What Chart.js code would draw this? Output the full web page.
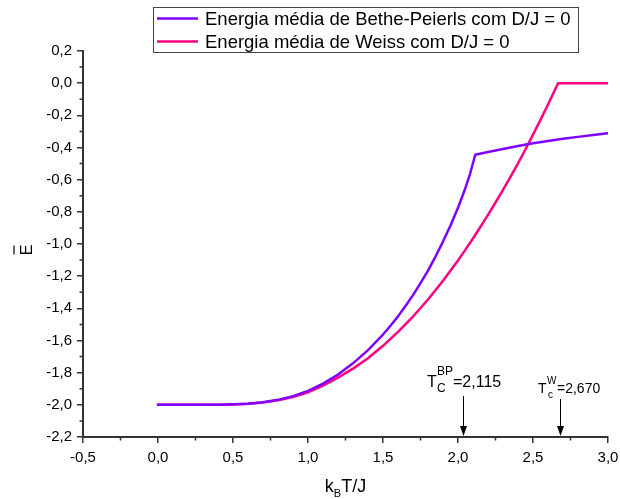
<!DOCTYPE html>
<html>
<head>
<meta charset="utf-8">
<script src="https://cdn.jsdelivr.net/npm/chart.js@4"></script>
<style>
  html, body { margin: 0; padding: 0; background: #fff; }
  #wrap { width: 620px; height: 499px; position: relative; }
</style>
</head>
<body>
<div id="wrap"><canvas id="chart"></canvas></div>
<script>
// kB T / J values and mean energies
const tBethe = [0, 0.2, 0.4, 0.5, 0.6, 0.7, 0.8, 0.9, 1.0, 1.1, 1.2, 1.3, 1.4, 1.5, 1.55, 1.6, 1.65, 1.7, 1.75, 1.8, 1.85, 1.9, 1.95, 2.0, 2.05, 2.08, 2.115,
                2.2, 2.3, 2.4, 2.5, 2.6, 2.7, 2.8, 2.9, 3.0];
const eBethe = [-2.000, -2.000, -1.999, -1.997, -1.993, -1.984, -1.969, -1.946, -1.913, -1.868, -1.812, -1.742, -1.660, -1.563, -1.508, -1.450, -1.386, -1.318, -1.243, -1.165, -1.078, -0.985, -0.885, -0.775, -0.650, -0.565, -0.445,
                -0.428, -0.409, -0.391, -0.374, -0.360, -0.346, -0.334, -0.322, -0.311];

const tWeiss = [0, 0.2, 0.4, 0.5, 0.6, 0.7, 0.8, 0.9, 1.0, 1.1, 1.2, 1.3, 1.4, 1.5, 1.6, 1.7, 1.8, 1.9, 2.0, 2.05, 2.1, 2.15, 2.2, 2.25, 2.3, 2.35, 2.4, 2.45, 2.5, 2.55, 2.6, 2.63, 2.667, 2.8, 3.0];
const eWeiss = [-2.000, -2.000, -2.000, -1.998, -1.994, -1.986, -1.972, -1.951, -1.922, -1.881, -1.831, -1.775, -1.710, -1.633, -1.546, -1.451, -1.345, -1.228, -1.102, -1.035, -0.966, -0.893, -0.819, -0.742, -0.663, -0.582, -0.499, -0.411, -0.320, -0.228, -0.133, -0.074, 0.000, 0.000, 0.000];

const seriesLabels = ["Energia média de Bethe-Peierls com D/J = 0", "Energia média de Weiss com D/J = 0"];
const seriesColors = ["#7f00ff", "#ff0080"];

const xTicks = [-0.5, 0.0, 0.5, 1.0, 1.5, 2.0, 2.5, 3.0];
const yTicks = [-2.2, -2.0, -1.8, -1.6, -1.4, -1.2, -1.0, -0.8, -0.6, -0.4, -0.2, 0.0, 0.2];

// critical temperature markers: where the arrow points, and the value printed
const tcArrowX = [2.035, 2.68];
const tcNames = ["BP", "W"];
const tcValues = ["=2,115", "=2,670"];

const FONT = "'Liberation Sans', Arial, sans-serif";
const AXIS = "#333";

function fmt(v) {
    if (Math.abs(v) < 1e-9) v = 0;
    return v.toFixed(1).replace(".", ",");
}

function pts(xs, ys) {
    return xs.map((x, i) => ({ x: x, y: ys[i] }));
}

const extras = {
    id: "extras",
    afterDraw(chart) {
        const ctx = chart.ctx;
        const xs = chart.scales.x, ys = chart.scales.y;
        const area = chart.chartArea;
        ctx.save();

        // minor ticks
        ctx.strokeStyle = AXIS;
        ctx.lineWidth = 1.5;
        ctx.beginPath();
        for (let i = 0; i < xTicks.length - 1; i++) {
            const px = xs.getPixelForValue((xTicks[i] + xTicks[i + 1]) / 2);
            ctx.moveTo(px, area.bottom);
            ctx.lineTo(px, area.bottom + 3.5);
        }
        for (let i = 0; i < yTicks.length - 1; i++) {
            const py = ys.getPixelForValue((yTicks[i] + yTicks[i + 1]) / 2);
            ctx.moveTo(area.left, py);
            ctx.lineTo(area.left - 3.5, py);
        }
        ctx.stroke();

        // axis titles
        ctx.fillStyle = "#000";
        ctx.textBaseline = "alphabetic";
        ctx.textAlign = "left";
        ctx.font = "18px " + FONT;
        const wk = ctx.measureText("k").width;
        const wt = ctx.measureText("T/J").width;
        ctx.font = "11px " + FONT;
        const wb = ctx.measureText("B").width;
        let x0 = (area.left + area.right) / 2 - (wk + wb + wt) / 2;
        ctx.font = "18px " + FONT;
        ctx.fillText("k", x0, 492);
        ctx.font = "11px " + FONT;
        ctx.fillText("B", x0 + wk, 497);
        ctx.font = "18px " + FONT;
        ctx.fillText("T/J", x0 + wk + wb, 492);

        ctx.save();
        ctx.translate(27, 250);
        ctx.rotate(-Math.PI / 2);
        ctx.font = "16px " + FONT;
        ctx.textAlign = "center";
        ctx.textBaseline = "middle";
        ctx.fillText("E", 0, 1);
        ctx.lineWidth = 1.2;
        ctx.strokeStyle = "#000";
        ctx.beginPath();
        ctx.moveTo(-4.5, -13);
        ctx.lineTo(4.5, -13);
        ctx.stroke();
        ctx.restore();

        // Tc arrows
        const tops = [396, 399];
        ctx.strokeStyle = "#000";
        ctx.fillStyle = "#000";
        ctx.lineWidth = 1;
        tcArrowX.forEach((v, i) => {
            const px = Math.round(xs.getPixelForValue(v)) + 0.5;
            ctx.beginPath();
            ctx.moveTo(px, tops[i]);
            ctx.lineTo(px, area.bottom - 8);
            ctx.stroke();
            ctx.beginPath();
            ctx.moveTo(px, area.bottom - 1);
            ctx.lineTo(px - 3.5, area.bottom - 11);
            ctx.lineTo(px + 3.5, area.bottom - 11);
            ctx.closePath();
            ctx.fill();
        });

        // Tc labels
        ctx.textAlign = "left";
        ctx.textBaseline = "alphabetic";
        ctx.font = "16px " + FONT;
        ctx.fillText("T", 427, 387);
        ctx.font = "12px " + FONT;
        ctx.fillText(tcNames[0], 437, 375);
        ctx.fillText("C", 437, 392);
        ctx.font = "16px " + FONT;
        ctx.fillText(tcValues[0], 453, 387);

        ctx.font = "14px " + FONT;
        ctx.fillText("T", 538, 393);
        ctx.font = "10px " + FONT;
        ctx.fillText(tcNames[1], 547, 384);
        ctx.fillText("c", 548, 398);
        ctx.font = "14px " + FONT;
        ctx.fillText(tcValues[1], 557, 393);

        // legend box
        const lx = 153, ly = 7, lw = 425, lh = 45;
        ctx.fillStyle = "#fff";
        ctx.fillRect(lx, ly, lw, lh);
        ctx.strokeStyle = "#444";
        ctx.lineWidth = 1;
        ctx.strokeRect(lx + 0.5, ly + 0.5, lw, lh);
        ctx.font = "18.5px " + FONT;
        ctx.textBaseline = "middle";
        chart.data.datasets.forEach((ds, i) => {
            const cy = 18.5 + i * 23;
            ctx.strokeStyle = ds.borderColor;
            ctx.lineWidth = 2.5;
            ctx.beginPath();
            ctx.moveTo(157, cy);
            ctx.lineTo(198, cy);
            ctx.stroke();
            ctx.fillStyle = "#000";
            ctx.fillText(ds.label, 205, cy + 1);
        });

        ctx.restore();
    }
};

new Chart(document.getElementById("chart"), {
    type: "line",
    data: {
        datasets: [
            { label: seriesLabels[0], data: pts(tBethe, eBethe), borderColor: seriesColors[0] },
            { label: seriesLabels[1], data: pts(tWeiss, eWeiss), borderColor: seriesColors[1] }
        ]
    },
    options: {
        responsive: true,
        maintainAspectRatio: false,
        animation: false,
        elements: {
            point: { radius: 0 },
            line: { borderWidth: 2.5, tension: 0, borderCapStyle: "round", borderJoinStyle: "round" }
        },
        layout: { padding: { left: 0, right: 12, top: 51, bottom: 0 } },
        plugins: { legend: { display: false }, tooltip: { enabled: false } },
        scales: {
            x: {
                type: "linear",
                min: -0.5,
                max: 3.0,
                afterFit: s => { s.height = 62; s.paddingLeft = 0; s.paddingRight = 0; },
                afterBuildTicks: s => { s.ticks = xTicks.map(v => ({ value: v })); },
                ticks: {
                    callback: v => fmt(v),
                    color: "#000",
                    padding: 6,
                    maxRotation: 0,
                    font: { family: FONT, size: 15 }
                },
                grid: { drawOnChartArea: false, drawTicks: true, tickLength: 6, tickColor: AXIS, lineWidth: 1.5 },
                border: { display: true, color: AXIS, width: 2 }
            },
            y: {
                type: "linear",
                min: -2.2,
                max: 0.2,
                afterFit: s => { s.width = 83; s.paddingTop = 0; s.paddingBottom = 0; },
                afterBuildTicks: s => { s.ticks = yTicks.map(v => ({ value: v })); },
                ticks: {
                    callback: v => fmt(v),
                    color: "#000",
                    padding: 5,
                    font: { family: FONT, size: 15 }
                },
                grid: { drawOnChartArea: false, drawTicks: true, tickLength: 6, tickColor: AXIS, lineWidth: 1.5 },
                border: { display: true, color: AXIS, width: 2 }
            }
        }
    },
    plugins: [extras]
});
</script>
</body>
</html>
